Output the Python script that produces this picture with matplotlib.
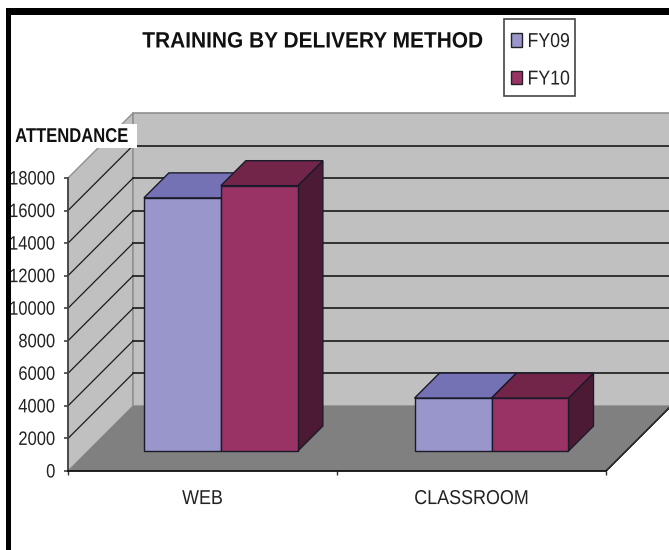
import matplotlib
matplotlib.use("Agg")
import matplotlib.pyplot as plt
from matplotlib.patches import Polygon, Rectangle, Patch
from matplotlib.patheffects import AbstractPathEffect
from matplotlib.transforms import Affine2D

categories = ["WEB", "CLASSROOM"]
series_names = ["FY09", "FY10"]
fy09 = [15550, 3250]
fy10 = [16300, 3250]
y_ticks = list(range(0, 18001, 2000))

W, H = 669, 550
plt.rcParams["font.family"] = ["Liberation Sans", "DejaVu Sans"]


class Condense(AbstractPathEffect):
    """Draw a text narrower than the font, keeping its anchor (0 left, .5 centre, 1 right)."""

    def __init__(self, sx, anchor):
        super().__init__()
        self.sx, self.anchor = sx, anchor

    def draw_path(self, renderer, gc, tpath, affine, rgbFace=None):
        w = tpath.get_extents().x1 * self.anchor
        t = Affine2D().translate(-w, 0).scale(self.sx, 1).translate(w, 0) + affine
        renderer.draw_path(gc, tpath, t, rgbFace)


fig = plt.figure(figsize=(W / 100, H / 100), dpi=100, facecolor="white")
ax = fig.add_axes([68 / W, (H - 471) / H, (606 - 68) / W, (471 - 178) / H])
ax.set_xlim(0, 2)
ax.set_ylim(0, 18000)
ax.patch.set_visible(False)
for s in ("top", "right"):
    ax.spines[s].set_visible(False)
ax.spines["left"].set_color("#444444")
ax.spines["left"].set_linewidth(1.3)
ax.spines["bottom"].set_color("#111111")
ax.spines["bottom"].set_linewidth(1.3)

DEPTH = 65
BASE = 20
BAR_D = 25
ymax = y_ticks[-1]


def offs(d):
    return ax.transData + Affine2D().translate(d, d)


def pts(corners):
    """Data position plus oblique depth, in display pixels."""
    return [ax.transData.transform((x, y)) + (d, d) for x, y, d in corners]


def poly(corners, z, **kw):
    ax.add_patch(Polygon(pts(corners), closed=True, transform=None, clip_on=False, zorder=z, **kw))


poly([(0, 0, 0), (0, ymax, 0), (0, ymax, DEPTH), (0, 0, DEPTH)], 1, fc="#C0C0C0", ec="#909090", lw=1)
poly([(0, 0, DEPTH), (0, ymax, DEPTH), (2, ymax, DEPTH), (2, 0, DEPTH)], 1, fc="#C0C0C0", ec="#909090", lw=1.2)
poly([(0, 0, 0), (2, 0, 0), (2, 0, DEPTH), (0, 0, DEPTH)], 1, fc="#808080", ec="none")
poly([(2, 0, 0), (2, 0, DEPTH)], 2, fc="none", ec="#333333", lw=1)

for v in y_ticks[1:-1]:
    ax.plot([0, 2], [v, v], transform=offs(DEPTH), color="#1a1a1a", lw=1.2, clip_on=False, zorder=2)
    p = pts([(0, v, 0), (0, v, DEPTH)])
    ax.plot([p[0][0], p[1][0]], [p[0][1], p[1][1]], transform=None, color="#1a1a1a", lw=0.9,
            clip_on=False, zorder=2)

# bars
BAR_W = 0.2862
GROUP_X = [0.494, 1.5]
front_cols = ["#9896CA", "#993366"]
top_cols = ["#7472B4", "#722449"]
side_cols = ["#4D4C66", "#4D1A33"]
EDGE = "#1a1a2a"
for i in range(len(categories)):
    for j, vals in enumerate((fy09, fy10)):
        x0 = GROUP_X[i] - BAR_W + j * BAR_W
        x1 = x0 + BAR_W
        v = vals[i]
        d0, d1 = BASE, BASE + BAR_D
        z = 3 + j + i * 3
        poly([(x1, 0, d0), (x1, v, d0), (x1, v, d1), (x1, 0, d1)], z, fc=side_cols[j], ec=EDGE, lw=1)
        poly([(x0, v, d0), (x1, v, d0), (x1, v, d1), (x0, v, d1)], z, fc=top_cols[j], ec=EDGE, lw=1)
        poly([(x0, 0, d0), (x1, 0, d0), (x1, v, d0), (x0, v, d0)], z + 0.5, fc=front_cols[j], ec=EDGE, lw=1)

# axes ticks and labels
ax.set_yticks(y_ticks)
ax.set_yticklabels([str(v) for v in y_ticks], fontsize=14, color="#222222")
ax.set_xticks([0, 1, 2])
ax.set_xticklabels([])
ax.set_xticks([0.5, 1.5], minor=True)
ax.set_xticklabels(categories, minor=True, fontsize=14.5, color="#222222")
ax.tick_params(axis="y", length=3, width=1.1, color="#333333", pad=6)
ax.tick_params(axis="x", which="major", length=3, width=1, color="#333333")
ax.tick_params(axis="x", which="minor", length=0, pad=13)
for t in ax.get_yticklabels():
    t.set_path_effects([Condense(0.85, 1)])
for t in ax.get_xticklabels(minor=True):
    t.set_path_effects([Condense(0.89, 0.5)])

# chart title and y-axis title
fig.text(313 / W, 1 - 42 / H, "TRAINING BY DELIVERY METHOD", ha="center", va="center",
         fontsize=16, fontweight="bold", color="#111111", path_effects=[Condense(0.94, 0.5)])
fig.add_artist(Rectangle((11 / W, 1 - 148 / H), 126 / W, 24 / H, transform=fig.transFigure,
                         fc="white", ec="none", zorder=5))
fig.text(72 / W, 1 - 136.5 / H, "ATTENDANCE", ha="center", va="center", fontsize=14.4, fontweight="bold",
         color="#111111", zorder=6, path_effects=[Condense(0.83, 0.5)])

# legend: frame drawn separately so that its padding can follow the reference
fig.add_artist(Rectangle((504 / W, 1 - 96 / H), 71 / W, 77 / H, transform=fig.transFigure,
                         fc="white", ec="#444444", lw=1.2, zorder=2))
handles = [Patch(fc=front_cols[k], ec="#222222", lw=1) for k in range(2)]
leg = fig.legend(handles, series_names, loc="upper left", bbox_to_anchor=(511 / W, 1 - 32 / H),
                 borderaxespad=0, borderpad=0, frameon=False, fontsize=14.5,
                 handlelength=0.55, handleheight=0.65, handletextpad=0.27, labelspacing=0.92)
leg.set_zorder(4)
for t in leg.get_texts():
    t.set_color("#222222")
    t.set_path_effects([Condense(0.88, 0)])

# black picture frame at the top and left of the screenshot
fig.add_artist(Rectangle((6 / W, 0), 5 / W, 1 - 8 / H, transform=fig.transFigure, fc="black", ec="none", zorder=7))
fig.add_artist(Rectangle((6 / W, 1 - 15 / H), 1 - 6 / W, 7 / H, transform=fig.transFigure, fc="black", ec="none", zorder=7))

fig.savefig("out.png", dpi=100)
